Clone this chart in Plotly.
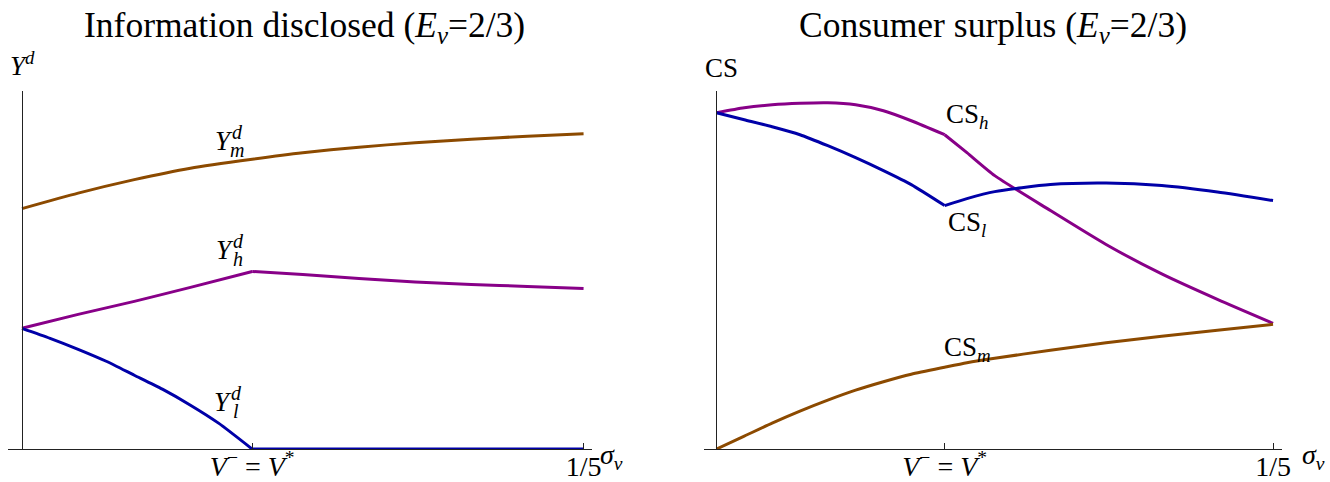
import plotly.graph_objects as go

# x positions (sigma_v); the kink sits at V- = V* ~ 0.082
V_STAR = 0.082
x_left = [0, 0.02, 0.04, 0.06, V_STAR, 0.10, 0.12, 0.14, 0.16, 0.18, 0.2]
y_m = [2.41, 2.565, 2.70, 2.815, 2.905, 2.97, 3.025, 3.07, 3.105, 3.135, 3.16]
y_h = [1.21, 1.35, 1.48, 1.62, 1.78, 1.75, 1.71, 1.675, 1.65, 1.63, 1.61]

x_low = [0, 0.01, 0.02, 0.03, 0.04, 0.05, 0.06, 0.07, V_STAR, 0.2]
y_l = [1.21, 1.11, 1.00, 0.88, 0.74, 0.60, 0.44, 0.26, 0.0, 0.0]

x_right = [0, 0.01, 0.02, 0.03, 0.04, 0.05, 0.06, 0.07, V_STAR, 0.09, 0.10, 0.12, 0.14, 0.16, 0.18, 0.2]
cs_h = [3.37, 3.42, 3.45, 3.465, 3.47, 3.45, 3.39, 3.29, 3.15, 2.97, 2.74, 2.39, 2.05, 1.755, 1.50, 1.26]
cs_l = [3.37, 3.30, 3.23, 3.15, 3.04, 2.92, 2.79, 2.65, 2.44, 2.51, 2.58, 2.65, 2.665, 2.64, 2.575, 2.49]
cs_m = [0, 0.13, 0.26, 0.38, 0.49, 0.59, 0.675, 0.75, 0.82, 0.865, 0.91, 0.99, 1.065, 1.13, 1.19, 1.25]

tick_vals = [V_STAR, 0.2]
tick_text = ["<i>V</i><sup>−</sup> = <i>V</i><sup>*</sup>", "1/5"]

BROWN = "#8c4a00"
PURPLE = "#880088"
BLUE = "#0000a8"
FONT = "Liberation Serif"
# positions are planned on a 1330x482 grid; the page is shown a little narrower, so widen it
W, H = 1330, 482
FIG_W = 1339


def add_curve(fig, xs, ys, color, xa, ya, kink=True):
    # kinked curves are split at V* so the spline keeps the corner sharp
    if kink:
        k = xs.index(V_STAR)
        parts = ((xs[:k + 1], ys[:k + 1]), (xs[k:], ys[k:]))
    else:
        parts = ((xs, ys),)
    for sx, sy in parts:
        fig.add_trace(go.Scatter(x=sx, y=sy, mode="lines", xaxis=xa, yaxis=ya,
                                 line=dict(color=color, width=3, shape="spline", smoothing=0.6),
                                 showlegend=False, hoverinfo="skip"))


fig = go.Figure()
add_curve(fig, x_left, y_m, BROWN, "x", "y", kink=False)
add_curve(fig, x_left, y_h, PURPLE, "x", "y")
add_curve(fig, x_low, y_l, BLUE, "x", "y")
add_curve(fig, x_right, cs_h, PURPLE, "x2", "y2")
add_curve(fig, x_right, cs_l, BLUE, "x2", "y2")
add_curve(fig, x_right, cs_m, BROWN, "x2", "y2", kink=False)

xcommon = dict(showgrid=False, zeroline=False, showline=True, linecolor="#222", linewidth=1,
               ticks="inside", ticklen=6, tickcolor="#222", tickvals=tick_vals, ticktext=tick_text,
               ticklabelstandoff=-8,
               tickfont=dict(family=FONT, size=28, color="black"))
ycommon = dict(showgrid=False, zeroline=False, showline=True, linecolor="#222", linewidth=1,
               showticklabels=False, ticks="", range=[0, 3.59], domain=[32 / H, 391 / H])

fig.update_layout(
    width=FIG_W, height=H, margin=dict(l=0, r=0, t=0, b=0),
    plot_bgcolor="white", paper_bgcolor="white",
    xaxis=dict(xcommon, domain=[8 / W, 592 / W], range=[-14 / 2810, 0.2 + 8 / 2810], anchor="y"),
    yaxis=dict(ycommon, anchor="free", position=22 / W),
    xaxis2=dict(xcommon, domain=[705 / W, 1283 / W], range=[-12 / 2785, 0.2 + 9 / 2785], anchor="y2"),
    yaxis2=dict(ycommon, anchor="free", position=717 / W),
)

ann = []


def text(x, y, s, size=26, xref="paper", yref="paper", xanchor="center", xshift=0, yshift=0):
    ann.append(dict(x=x, y=y, xref=xref, yref=yref, text=s, showarrow=False, xanchor=xanchor,
                    yanchor="middle", xshift=xshift, yshift=yshift,
                    font=dict(family=FONT, size=size, color="black")))


# titles and axis names
text(305 / W, 1 - 27 / H, "Information disclosed (<i>E</i><sub><i>v</i></sub>=2/3)", size=35.5)
text(994 / W, 1 - 27 / H, "Consumer surplus (<i>E</i><sub><i>v</i></sub>=2/3)", size=35.5)
text(8 / W, 1 - 64 / H, "<i>Y</i><sup><i>d</i></sup>", size=27, xanchor="left")
text(704 / W, 1 - 68 / H, "CS", size=27, xanchor="left")
text(598 / W, 1 - 457 / H, "<i>σ</i><sub><i>v</i></sub>", size=28, xanchor="left")
text(1301 / W, 1 - 457 / H, "<i>σ</i><sub><i>v</i></sub>", size=28, xanchor="left")

# stacked Y^d_k labels on the left panel
for lx, ly, sub in [(0.0719, 3.09, "m"), (0.0722, 1.99, "h"), (0.0715, 0.47, "l")]:
    text(lx, ly, "<i>Y</i>", size=27, xref="x", yref="y")
    text(lx, ly, "<i>d</i>", size=20, xref="x", yref="y", xshift=14, yshift=9)
    text(lx, ly, "<i>%s</i>" % sub, size=20, xref="x", yref="y", xshift=13, yshift=-9)

# CS_k labels on the right panel
for lx, ly, sub in [(0.0819, 3.34, "h"), (0.0826, 2.26, "l"), (0.0812, 1.00, "m")]:
    text(lx, ly, "CS<sub><i>%s</i></sub>" % sub, size=27, xref="x2", yref="y2", xanchor="left")

fig.update_layout(annotations=ann)

fig.write_html("out.html", config={"displayModeBar": False},
               post_script="document.documentElement.style.overflow='hidden';"
                           "document.body.style.margin='0';document.body.style.overflow='hidden';")
